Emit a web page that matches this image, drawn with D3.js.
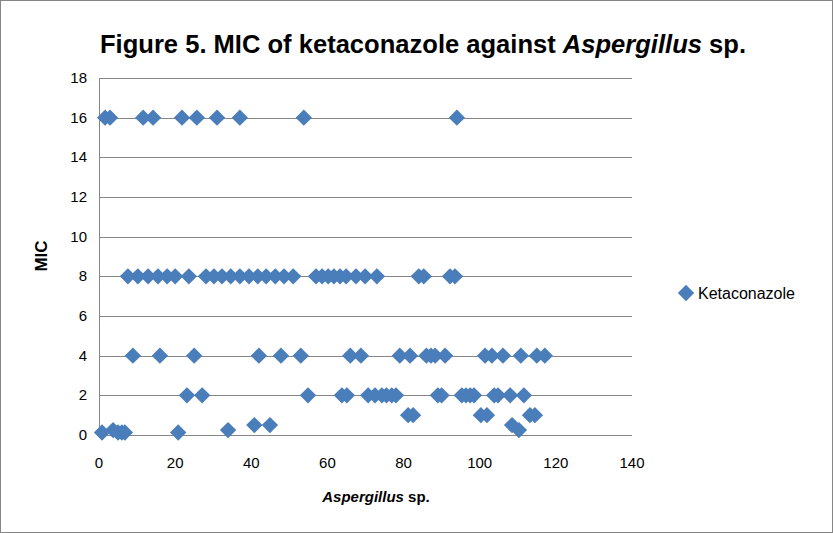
<!DOCTYPE html>
<html lang="en">
<head>
<meta charset="UTF-8">
<title>Figure 5. MIC of ketaconazole against Aspergillus sp.</title>
<script src="https://d3js.org/d3.v7.min.js"></script>
<style>
    body { margin: 0; padding: 0; background: #fff; overflow: hidden; }
    svg text { font-family: "Liberation Sans", Arial, sans-serif; fill: #000; }
    .tick-label { font-size: 15px; }
</style>
</head>
<body>
<svg id="chart" width="833" height="533"></svg>
<script>
// isolate number on the x axis, MIC
const isolates = [
    1.6, 2.9, 11.6, 14.2, 21.8, 25.7, 31, 37, 53.8, 94,
    7.6, 10.2, 12.9, 15.5, 17.9, 20, 23.6, 28.1, 30.2, 32.3, 34.6, 37, 39.4, 41.7, 43.9, 46.3, 48.6, 51,
    57, 58.6, 60.2, 61.7, 63.3, 64.9, 67.5, 69.9, 73, 84, 85.3, 92.2, 93.5,
    8.9, 16, 25, 42, 47.8, 53, 66, 68.8, 79, 81.7, 86, 87.2, 88.3, 90.9, 101.4, 103.2, 106.1, 110.8, 115, 117.1,
    23.1, 27.1, 54.9, 63.8, 65.1, 70.7, 72.5, 74.3, 75.5, 76.9, 78, 89, 90, 95.3, 96.4, 97.5, 98.5, 103.8, 104.8, 108, 111.6,
    81.2, 82.5, 100.3, 101.9, 113.2, 114.5,
    40.8, 44.9, 108.5,
    3.7, 33.9, 110.3,
    0.8, 5, 6, 6.8, 20.8
];
const micValues = [
    16, 16, 16, 16, 16, 16, 16, 16, 16, 16,
    8, 8, 8, 8, 8, 8, 8, 8, 8, 8, 8, 8, 8, 8, 8, 8, 8, 8,
    8, 8, 8, 8, 8, 8, 8, 8, 8, 8, 8, 8, 8,
    4, 4, 4, 4, 4, 4, 4, 4, 4, 4, 4, 4, 4, 4, 4, 4, 4, 4, 4, 4,
    2, 2, 2, 2, 2, 2, 2, 2, 2, 2, 2, 2, 2, 2, 2, 2, 2, 2, 2, 2, 2,
    1, 1, 1, 1, 1, 1,
    0.5, 0.5, 0.5,
    0.25, 0.25, 0.25,
    0.125, 0.125, 0.125, 0.125, 0.125
];
const xTicks = [0, 20, 40, 60, 80, 100, 120, 140];
const yTicks = [0, 2, 4, 6, 8, 10, 12, 14, 16, 18];
const seriesName = "Ketaconazole";

const points = isolates.map((x, i) => ({ x: x, y: micValues[i] }));

const svg = d3.select("#chart");
const blue = "#4a7ebb";
const grey = "#868686";

// chart border
svg.append("rect")
   .attr("x", 0.5).attr("y", 0.5)
   .attr("width", 832).attr("height", 532)
   .attr("fill", "#fff")
   .attr("stroke", grey);

const plot = { left: 99, right: 632, top: 78, bottom: 435 };

const xScale = d3.scaleLinear().domain([0, 140]).range([plot.left, plot.right]);
const yScale = d3.scaleLinear().domain([0, 18]).range([plot.bottom, plot.top]);

// horizontal gridlines
svg.append("g")
   .selectAll("line")
   .data(yTicks.filter(t => t > 0))
   .join("line")
   .attr("x1", plot.left).attr("x2", plot.right)
   .attr("y1", d => Math.round(yScale(d)) + 0.5)
   .attr("y2", d => Math.round(yScale(d)) + 0.5)
   .attr("stroke", grey);

// axes lines
svg.append("line")
   .attr("x1", plot.left + 0.5).attr("x2", plot.left + 0.5)
   .attr("y1", plot.top).attr("y2", plot.bottom + 0.5)
   .attr("stroke", grey);
svg.append("line")
   .attr("x1", plot.left).attr("x2", plot.right)
   .attr("y1", plot.bottom + 0.5).attr("y2", plot.bottom + 0.5)
   .attr("stroke", grey);

// tick labels
svg.append("g")
   .selectAll("text")
   .data(yTicks)
   .join("text")
   .attr("class", "tick-label")
   .attr("x", 87)
   .attr("y", d => yScale(d) + 5)
   .attr("text-anchor", "end")
   .text(d => d);

svg.append("g")
   .selectAll("text")
   .data(xTicks)
   .join("text")
   .attr("class", "tick-label")
   .attr("x", d => xScale(d))
   .attr("y", 468)
   .attr("text-anchor", "middle")
   .text(d => d);

// diamonds
const diamond = d3.symbol().type(d3.symbolDiamond2).size(170);

svg.append("g")
   .selectAll("path")
   .data(points)
   .join("path")
   .attr("d", diamond)
   .attr("transform", d => `translate(${xScale(d.x)},${yScale(d.y)})`)
   .attr("fill", blue);

// title
const title = svg.append("text")
   .attr("x", 423)
   .attr("y", 53)
   .attr("text-anchor", "middle")
   .attr("font-size", 26)
   .attr("font-weight", "bold")
   .attr("textLength", 646)
   .attr("lengthAdjust", "spacingAndGlyphs");
title.append("tspan").text("Figure 5. MIC of ketaconazole against ");
title.append("tspan").attr("font-style", "italic").text("Aspergillus");
title.append("tspan").text(" sp.");

// axis titles
const xTitle = svg.append("text")
   .attr("x", 376)
   .attr("y", 502)
   .attr("text-anchor", "middle")
   .attr("font-size", 15)
   .attr("font-weight", "bold");
xTitle.append("tspan").attr("font-style", "italic").text("Aspergillus");
xTitle.append("tspan").text(" sp.");

svg.append("text")
   .attr("transform", "translate(47,256) rotate(-90)")
   .attr("text-anchor", "middle")
   .attr("font-size", 17)
   .attr("font-weight", "bold")
   .text("MIC");

// legend
svg.append("path")
   .attr("d", diamond)
   .attr("transform", "translate(686,293)")
   .attr("fill", blue);
svg.append("text")
   .attr("x", 698)
   .attr("y", 299)
   .attr("font-size", 16)
   .text(seriesName);
</script>
</body>
</html>
